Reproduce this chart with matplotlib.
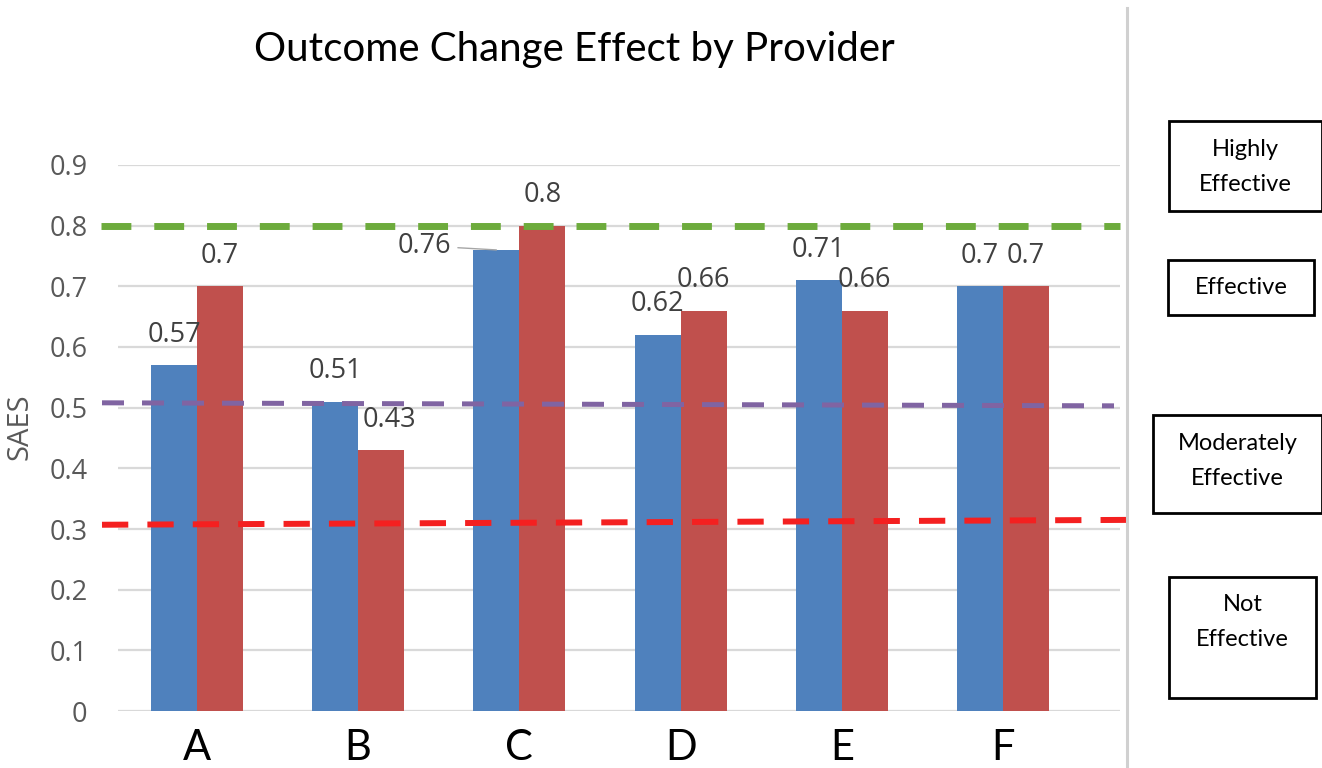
import matplotlib
matplotlib.use("Agg")
import matplotlib.pyplot as plt
from matplotlib.patches import Rectangle
from matplotlib.lines import Line2D
import numpy as np

# ---- data ----
categories = ["A", "B", "C", "D", "E", "F"]
series1 = [0.57, 0.51, 0.76, 0.62, 0.71, 0.70]
series2 = [0.70, 0.43, 0.80, 0.66, 0.66, 0.70]
yticks = [0, 0.1, 0.2, 0.3, 0.4, 0.5, 0.6, 0.7, 0.8, 0.9]
ytick_labels = ["0", "0.1", "0.2", "0.3", "0.4", "0.5", "0.6", "0.7", "0.8", "0.9"]
# threshold lines: value at left end, value at right end
thr_green = [0.80, 0.80]
thr_purple = [0.508, 0.503]
thr_red = [0.307, 0.315]
box_labels = ["Highly\nEffective", "Effective", "Moderately\nEffective", "Not\nEffective"]

W, H = 1322, 768
fig = plt.figure(figsize=(W / 100, H / 100), dpi=100)
fig.patch.set_facecolor("white")

def fx(px):
    return px / W

def fy(py):
    return 1 - py / H

ax = fig.add_axes([fx(118), fy(711), fx(1120) - fx(118), fy(165) - fy(711)])
x = np.arange(len(categories))
bw = 0.285
blue = "#4F81BD"
red = "#C0504D"
ax.bar(x - bw / 2, series1, bw, color=blue, zorder=2)
ax.bar(x + bw / 2, series2, bw, color=red, zorder=2)

ax.set_xlim(-0.49, 5.726)
ax.set_ylim(0, 0.9)
ax.set_yticks(yticks)
ax.set_yticklabels(ytick_labels)
ax.yaxis.grid(True, color="#d9d9d9", linewidth=1.6, zorder=0)
ax.set_axisbelow(True)
for s in ax.spines.values():
    s.set_visible(False)
ax.tick_params(axis="y", length=0, pad=22, labelsize=19.5, labelcolor="#595959")
for lab in ax.get_yticklabels():
    lab.set_family("Open Sans")
ax.set_xticks(x)
ax.set_xticklabels(categories)
ax.tick_params(axis="x", length=0, pad=13, labelsize=30, labelcolor="black")
for lab in ax.get_xticklabels():
    lab.set_family("Lato")

ax.set_ylabel("SAES", fontsize=21, color="#595959", family="Open Sans")
ax.yaxis.set_label_coords(-0.083, 0.52)

lab_kw = dict(textcoords="offset points", ha="center", va="center",
              fontsize=19.5, color="#404040", family="Open Sans", zorder=4)
for i in range(len(categories)):
    if i == 2:
        ax.annotate(f"{series1[i]:g}", xy=(x[i] - bw / 2, series1[i]),
                    xytext=(-52, 3), arrowprops=dict(arrowstyle="-", color="#a6a6a6", lw=1,
                                                     shrinkA=3, shrinkB=0),
                    **lab_kw)
    else:
        ax.annotate(f"{series1[i]:g}", xy=(x[i] - bw / 2, series1[i]), xytext=(0, 22), **lab_kw)
    dx = 6 if i == 1 else 0
    ax.annotate(f"{series2[i]:g}", xy=(x[i] + bw / 2, series2[i]), xytext=(dx, 22), **lab_kw)

# threshold dashed lines (extend slightly past the plot area)
def thr_line(vals, x0px, x1px, color, lw, dashes):
    xl = ax.get_xlim()
    scale = (xl[1] - xl[0]) / (1120 - 118)
    xa = xl[0] + (x0px - 118) * scale
    xb = xl[0] + (x1px - 118) * scale
    ln = Line2D([xa, xb], vals, color=color, lw=lw, dashes=dashes,
                solid_capstyle="butt", dash_capstyle="butt", clip_on=False, zorder=3)
    ax.add_line(ln)

thr_line(thr_green, 101, 1120, "#6DAB3C", 5.0, (4.3, 3.3))
thr_line(thr_purple, 102, 1114, "#8064A2", 3.6, (4.4, 3.6))
thr_line(thr_red, 102, 1126, "#F42020", 4.3, (4.4, 3.2))

# title
fig.text(fx(574), fy(50), "Outcome Change Effect by Provider", ha="center", va="center",
         fontsize=29, family="Lato", color="black")

# vertical separator
fig.add_artist(Line2D([fx(1127), fx(1127)], [fy(8), fy(768)], color="#d0d0d0", lw=2.2))

# right-hand boxes
boxes = [(1169, 121, 1322, 211), (1168, 260, 1314, 315), (1153, 415, 1322, 513), (1169, 577, 1316, 698)]
text_y = [167, 287, 461, 622]
for (x0, y0, x1, y1), lbl, ty in zip(boxes, box_labels, text_y):
    fig.add_artist(Rectangle((fx(x0), fy(y1)), fx(x1) - fx(x0), fy(y0) - fy(y1),
                             fill=False, edgecolor="black", lw=2.0, clip_on=False))
    fig.text(fx((x0 + x1) / 2), fy(ty), lbl, ha="center", va="center", fontsize=17,
             family="Lato", color="black", linespacing=1.85)

fig.savefig("out.png", dpi=100)
